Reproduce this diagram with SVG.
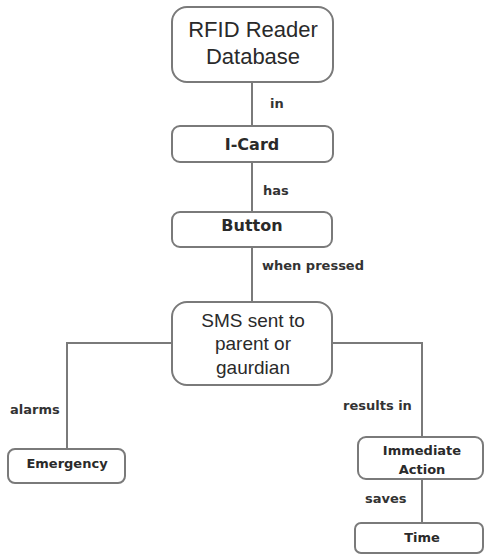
<svg xmlns="http://www.w3.org/2000/svg" width="485" height="557" viewBox="0 0 485 557">
<style>
.box{fill:#fff;stroke:#7a7a7a;stroke-width:2}
.edge{fill:none;stroke:#7a7a7a;stroke-width:2}
.big{font-family:"Liberation Sans",Arial,sans-serif;fill:#2a2a2a;text-anchor:middle}
.bold{font-family:"DejaVu Sans",Verdana,sans-serif;font-weight:bold;fill:#2a2a2a;text-anchor:middle}
.lbl{font-family:"DejaVu Sans",Verdana,sans-serif;font-weight:bold;font-size:13px;fill:#333}
</style>
<rect width="485" height="557" fill="#fff"/>
<g id="connectors">
<line class="edge" x1="252" y1="82" x2="252" y2="126"/>
<line class="edge" x1="252" y1="162" x2="252" y2="212"/>
<line class="edge" x1="252" y1="247" x2="252" y2="302"/>
<polyline class="edge" points="172,343 67,343 67,449"/>
<polyline class="edge" points="332,343 422,343 422,437"/>
<line class="edge" x1="422" y1="479" x2="422" y2="523"/>
<text class="lbl" x="270" y="108">in</text>
<text class="lbl" x="263" y="195">has</text>
<text class="lbl" x="262" y="270">when pressed</text>
<text class="lbl" x="10" y="414">alarms</text>
<text class="lbl" x="343" y="410">results in</text>
<text class="lbl" x="365" y="503">saves</text>
</g>
<g id="rfid">
<rect class="box" x="172" y="7" width="161" height="75" rx="15"/>
<text class="big" x="253" y="37" font-size="22">RFID Reader</text>
<text class="big" x="253" y="64" font-size="22">Database</text>
</g>
<g id="icard">
<rect class="box" x="172" y="126" width="161" height="36" rx="8"/>
<text class="bold" x="252" y="150" font-size="16">I-Card</text>
</g>
<g id="button">
<rect class="box" x="172" y="212" width="160" height="35" rx="8"/>
<text class="bold" x="252" y="231" font-size="16">Button</text>
</g>
<g id="sms">
<rect class="box" x="172" y="302" width="160" height="83" rx="15"/>
<text class="big" x="253" y="327" font-size="19">SMS sent to</text>
<text class="big" x="253" y="350" font-size="19">parent or</text>
<text class="big" x="253" y="374" font-size="19">gaurdian</text>
</g>
<g id="emergency">
<rect class="box" x="8" y="449" width="117" height="34" rx="7"/>
<text class="bold" x="67" y="468" font-size="13">Emergency</text>
</g>
<g id="action">
<rect class="box" x="358" y="437" width="125" height="42" rx="8"/>
<text class="bold" x="422" y="455" font-size="13">Immediate</text>
<text class="bold" x="422" y="474" font-size="13">Action</text>
</g>
<g id="time">
<rect class="box" x="355" y="523" width="128" height="30" rx="6"/>
<text class="bold" x="422" y="542" font-size="13">Time</text>
</g>
</svg>
